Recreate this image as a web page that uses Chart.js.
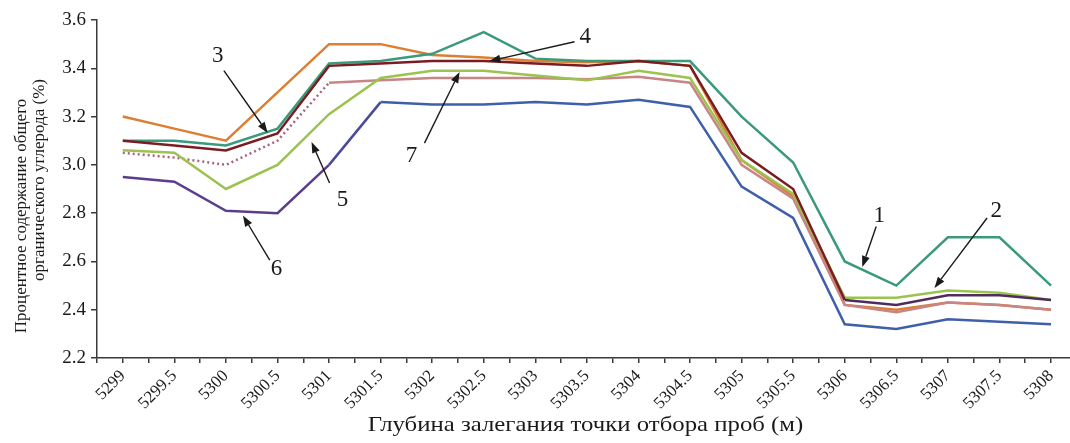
<!DOCTYPE html>
<html>
<head>
<meta charset="utf-8">
<script src="https://cdn.jsdelivr.net/npm/chart.js@4/dist/chart.umd.min.js"></script>
<style>
  html, body { margin: 0; padding: 0; background: #ffffff; }
  #wrap { width: 1070px; height: 443px; }
</style>
</head>
<body>
<div id="wrap"><canvas id="chart" width="1070" height="443"></canvas></div>
<script>
// Sampling depths, m
const depths = [5299, 5299.5, 5300, 5300.5, 5301, 5301.5, 5302, 5302.5, 5303, 5303.5,
                5304, 5304.5, 5305, 5305.5, 5306, 5306.5, 5307, 5307.5, 5308];

// Total organic carbon content, %
const seriesTeal   = [3.10, 3.10, 3.08, 3.15, 3.42, 3.43, 3.46, 3.55, 3.44, 3.43, 3.43, 3.43, 3.20, 3.01, 2.60, 2.50, 2.70, 2.70, 2.50];
const seriesOrange = [3.20, 3.15, 3.10, 3.30, 3.50, 3.50, 3.455, 3.445, 3.43, 3.425, 3.43, 3.41, 3.02, 2.87, 2.42, 2.40, 2.43, 2.42, 2.40];
const seriesMaroon = [3.10, 3.08, 3.06, 3.13, 3.41, 3.42, 3.43, 3.43, 3.42, 3.41, 3.43, 3.41, 3.05, 2.90, 2.44, 2.42, 2.46, 2.46, 2.44];
const seriesLime   = [3.06, 3.05, 2.90, 3.00, 3.21, 3.36, 3.39, 3.39, 3.37, 3.35, 3.39, 3.36, 3.02, 2.88, 2.45, 2.45, 2.48, 2.47, 2.44];
const seriesRose   = [3.05, 3.03, 3.00, 3.10, 3.34, 3.35, 3.36, 3.36, 3.36, 3.355, 3.365, 3.34, 3.00, 2.86, 2.42, 2.39, 2.43, 2.42, 2.40];
const seriesBlue   = [2.95, 2.93, 2.81, 2.80, 3.00, 3.26, 3.25, 3.25, 3.26, 3.25, 3.27, 3.24, 2.91, 2.78, 2.34, 2.32, 2.36, 2.35, 2.34];

// Axis settings
const yMin = 2.2, yMax = 3.6, yStep = 0.2;
const xTitle = 'Глубина залегания точки отбора проб (м)';
const yTitleLines = ['Процентное содержание общего', 'органического углерода (%)'];

// Numbered callouts: label position, arrow start and arrow tip in (depth, value)
const callouts = [
  { text: '3', label: [5299.92, 3.45],  from: [5299.98, 3.39],  to: [5300.405, 3.132] },
  { text: '4', label: [5303.485, 3.53], from: [5303.38, 3.51],  to: [5302.555, 3.43] },
  { text: '7', label: [5301.8, 3.035],  from: [5301.925, 3.09], to: [5302.265, 3.385] },
  { text: '5', label: [5301.13, 2.855], from: [5301.005, 2.925], to: [5300.83, 3.095] },
  { text: '6', label: [5300.49, 2.57],  from: [5300.425, 2.605], to: [5300.165, 2.79] },
  { text: '1', label: [5306.335, 2.79], from: [5306.305, 2.745], to: [5306.17, 2.577] },
  { text: '2', label: [5307.47, 2.81],  from: [5307.38, 2.78],  to: [5306.87, 2.49] }
];

const pts = arr => arr.map((v, i) => ({ x: depths[i], y: v }));
const serif = "'Liberation Serif', 'DejaVu Serif', serif";

// Tick marks at every sample depth and half-way between neighbouring depths
const half = (depths[1] - depths[0]) / 2;
const tickPositions = [];
depths.forEach(d => { tickPositions.push(d - half); tickPositions.push(d); });

const xLeft = depths[0] - half;
const xRight = depths[depths.length - 1] + 0.184;

const calloutPlugin = {
  id: 'callouts',
  afterDatasetsDraw(chart) {
    const { ctx, scales: { x, y } } = chart;
    ctx.save();
    ctx.strokeStyle = '#1a1a1a';
    ctx.fillStyle = '#1a1a1a';
    ctx.lineWidth = 1.4;
    callouts.forEach(c => {
      const x0 = x.getPixelForValue(c.from[0]), y0 = y.getPixelForValue(c.from[1]);
      const x1 = x.getPixelForValue(c.to[0]),   y1 = y.getPixelForValue(c.to[1]);
      const ang = Math.atan2(y1 - y0, x1 - x0);
      const headLen = 11, headW = 4;
      const bx = x1 - headLen * Math.cos(ang), by = y1 - headLen * Math.sin(ang);
      ctx.beginPath();
      ctx.moveTo(x0, y0);
      ctx.lineTo(bx, by);
      ctx.stroke();
      ctx.beginPath();
      ctx.moveTo(x1, y1);
      ctx.lineTo(bx + headW * Math.sin(ang), by - headW * Math.cos(ang));
      ctx.lineTo(bx - headW * Math.sin(ang), by + headW * Math.cos(ang));
      ctx.closePath();
      ctx.fill();
      ctx.font = '23px ' + serif;
      ctx.textAlign = 'center';
      ctx.textBaseline = 'middle';
      ctx.fillText(c.text, x.getPixelForValue(c.label[0]), y.getPixelForValue(c.label[1]));
    });
    ctx.restore();
  }
};

const titlePlugin = {
  id: 'axisTitles',
  afterDraw(chart) {
    const { ctx, chartArea } = chart;
    ctx.save();
    ctx.fillStyle = '#1a1a1a';
    ctx.textAlign = 'center';
    ctx.textBaseline = 'middle';
    ctx.font = '21px ' + serif;
    ctx.save();
    ctx.translate((chartArea.left + chartArea.right) / 2 + 2, 425);
    ctx.scale(1.18, 1);
    ctx.fillText(xTitle, 0, 0);
    ctx.restore();
    ctx.font = '17px ' + serif;
    const centres = [216, 180];
    const xs = [22, 40];
    yTitleLines.forEach((t, i) => {
      ctx.save();
      ctx.translate(xs[i], centres[i]);
      ctx.rotate(-Math.PI / 2);
      ctx.fillText(t, 0, 0);
      ctx.restore();
    });
    ctx.restore();
  }
};

const line = (data, color, extra) => Object.assign({
  data: pts(data),
  borderColor: color,
  borderWidth: 2.5,
  pointRadius: 0,
  tension: 0,
  fill: false
}, extra || {});

new Chart(document.getElementById('chart'), {
  type: 'line',
  data: {
    datasets: [
      line(seriesMaroon, '#7a1d22', {
        segment: { borderColor: c => (c.p0DataIndex >= 14 ? '#4e2d5e' : '#7a1d22') }
      }),
      line(seriesTeal, '#3a9a7b'),
      line(seriesLime, '#9cc24f'),
      line(seriesRose, '#c88585', {
        segment: {
          borderColor: c => (c.p0DataIndex < 4 ? '#a8647e' : '#c88585'),
          borderDash: c => (c.p0DataIndex < 4 ? [2, 3] : [])
        }
      }),
      line(seriesOrange, '#dc7f33'),
      line(seriesBlue, '#3f5fab', {
        segment: { borderColor: c => (c.p0DataIndex < 4 ? '#5b3d8d' : (c.p0DataIndex === 4 ? '#4a4a9c' : '#3f5fab')) }
      })
    ]
  },
  options: {
    responsive: false,
    animation: false,
    layout: { padding: { left: 0, right: 0, top: 20, bottom: 0 } },
    plugins: { legend: { display: false }, tooltip: { enabled: false } },
    scales: {
      x: {
        type: 'linear',
        min: xLeft,
        max: xRight,
        afterFit: s => { s.height = 85; },
        afterBuildTicks: axis => { axis.ticks = tickPositions.map(v => ({ value: v })); },
        ticks: {
          autoSkip: false,
          minRotation: 45,
          maxRotation: 45,
          padding: 3,
          color: '#1a1a1a',
          font: { family: serif, size: 17 },
          callback: v => (depths.includes(v) ? String(v) : '')
        },
        grid: { drawOnChartArea: false, drawTicks: true, tickLength: 5, color: '#3a3a3a', lineWidth: 1.5 },
        border: { color: '#3a3a3a', width: 1.5 }
      },
      y: {
        min: yMin,
        max: yMax,
        afterFit: s => { s.width = 97; },
        ticks: {
          stepSize: yStep,
          padding: 5,
          color: '#1a1a1a',
          font: { family: serif, size: 19 },
          callback: v => v.toFixed(1)
        },
        grid: { drawOnChartArea: false, drawTicks: true, tickLength: 6, color: '#3a3a3a', lineWidth: 1.5 },
        border: { color: '#3a3a3a', width: 1.5 }
      }
    }
  },
  plugins: [calloutPlugin, titlePlugin]
});
</script>
</body>
</html>
